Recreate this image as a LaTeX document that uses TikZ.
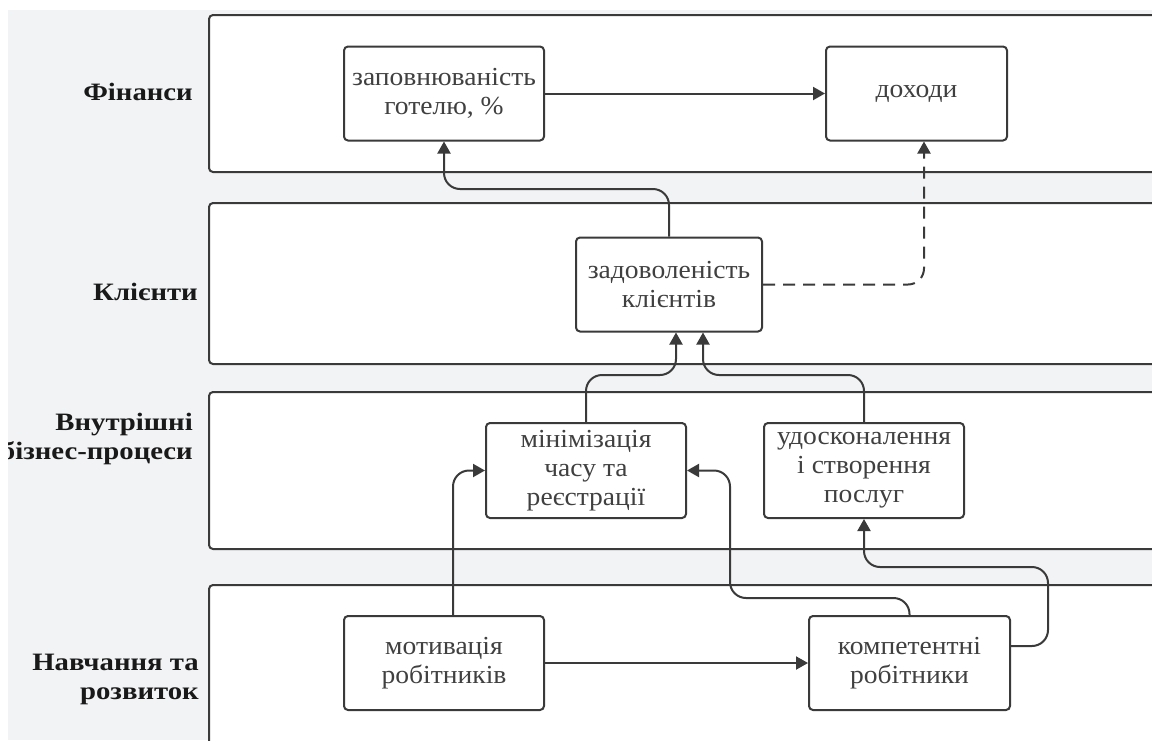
\documentclass[tikz,border=0pt]{standalone}
\usepackage{fontspec}
\setmainfont{Liberation Serif}
\newfontfamily\boxfont[FakeStretch=1.06]{Liberation Serif}
\newfontfamily\lanefont[FakeStretch=1.15]{Liberation Serif}
\usepackage{tikz}
\usetikzlibrary{arrows.meta,calc}

\definecolor{bggray}{HTML}{F2F3F5}
\definecolor{edge}{HTML}{3A3A3A}
\definecolor{boxtext}{HTML}{404040}

\begin{document}
\begin{tikzpicture}[x=1pt,y=-1pt,
  lane/.style={draw=edge,fill=white,line width=2pt,rounded corners=4pt},
  box/.style={draw=edge,fill=white,line width=2pt,rounded corners=4pt,
    minimum width=200pt,minimum height=94pt,inner sep=0pt,align=center,
    text=boxtext,font=\boxfont\fontsize{26}{29}\selectfont},
  lbl/.style={inner sep=0pt,align=right,text=black!90,
    font=\lanefont\fontsize{25}{29}\selectfont\bfseries},
  arr/.style={draw=edge,line width=2pt,rounded corners=16pt,
    -{Triangle[length=12pt,width=13pt]}}]

\useasboundingbox (0,0) rectangle (1152,740);
\fill[white] (0,0) rectangle (1152,740);
\clip (8,10) rectangle (1152,740);
\fill[bggray] (8,10) rectangle (1152,740);

\foreach \t/\b in {15/172,203/364,392/549,585/780}
    \draw[lane] (209,\t) rectangle (1180,\b);

\node[lbl,anchor=base east] (fin) at (193,100.5) {Фінанси};
\node[lbl,anchor=base east] (kli) at (198,300) {Клієнти};
\node[lbl,anchor=east] (vnu) at (193,438.5) {Внутрішні\\бізнес-процеси};
\node[lbl,anchor=east] (nav) at (199,679) {Навчання та\\розвиток};

\node[box] (zap) at (444,93.5) {заповнюваність\\готелю, \%};
\node[box,minimum width=181pt] (doh) at (916.5,93.5) {доходи};
\node[box,minimum width=186pt] (zad) at (669,284.5) {задоволеність\\клієнтів};
\node[box,minimum height=95pt] (min) at (586,470.5) {мінімізація\\часу та\\реєстрації};
\node[box,minimum height=95pt] (udo) at (864,470.5) {удосконалення\\і створення\\послуг};
\node[box] (mot) at (444,663) {мотивація\\робітників};
\node[box,minimum width=201pt] (kom) at (909.5,663) {компетентні\\робітники};

\coordinate (zs1) at ($(zad.south)+(7,0)$);
\coordinate (zs2) at ($(zad.south)+(34,0)$);
\coordinate (mn) at ($(mot.north)+(9,0)$);
\coordinate (ke) at ($(kom.east)+(0,-17)$);

\draw[arr] (zap) -- (doh);
\draw[arr] (zad.north) |- (zap.south |- 0,189) -- (zap.south);
\draw[arr,dash pattern=on 12pt off 8pt] (zad.east) -| ([xshift=7.5pt]doh.south);
\draw[arr] (min.north) |- (zs1 |- 0,375) -- (zs1);
\draw[arr] (udo.north) |- (zs2 |- 0,375) -- (zs2);
\draw[arr] (mn) |- (min.west);
\draw[arr] (mot) -- (kom);
\draw[arr] (kom.north) |- (730,598) |- (min.east);
\draw[arr] (ke) -| (1048,567) -| (udo.south);

\end{tikzpicture}
\end{document}
